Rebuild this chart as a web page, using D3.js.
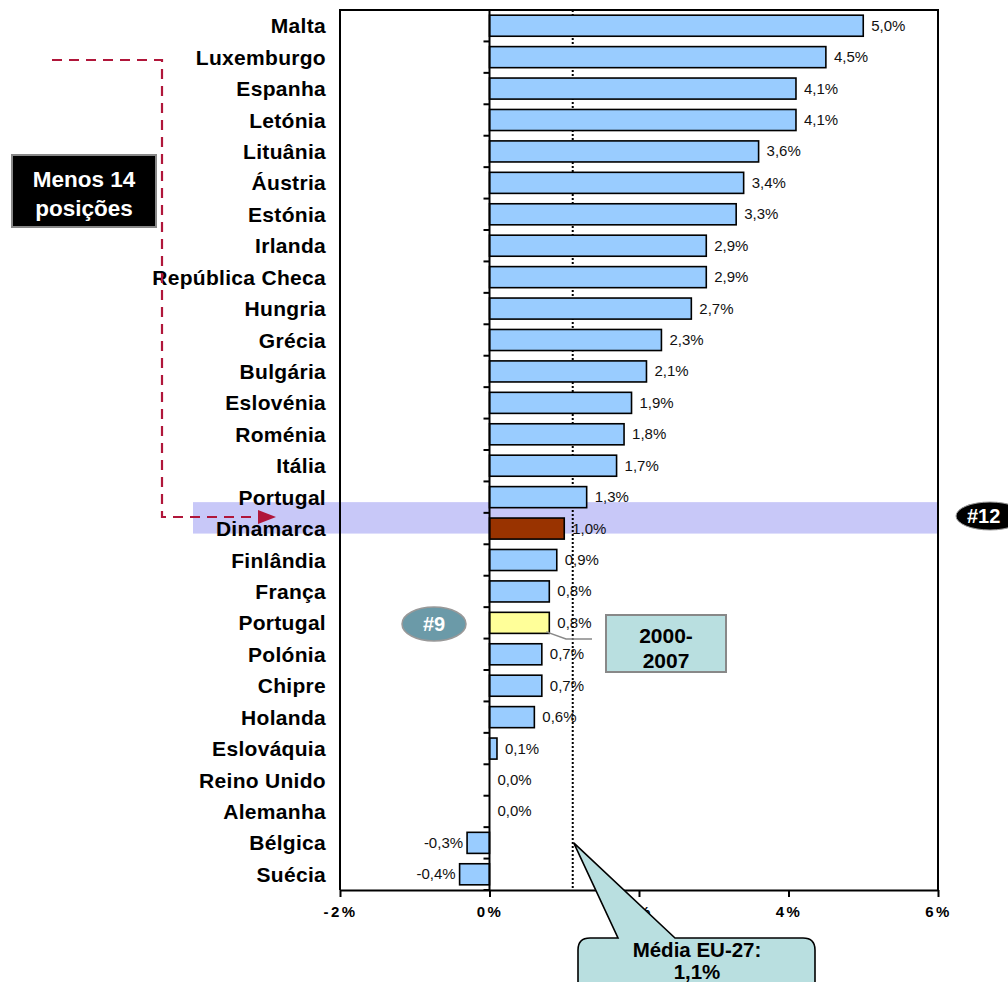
<!DOCTYPE html>
<html><head><meta charset="utf-8">
<script src="https://cdn.jsdelivr.net/npm/d3@7"></script>
<style>
html,body{margin:0;padding:0;background:#fff;}
svg{display:block;font-family:"Liberation Sans",Arial,sans-serif;}
</style></head>
<body><svg id="c" width="1008" height="982"></svg>
<script>
const countries = ["Malta","Luxemburgo","Espanha","Letónia","Lituânia","Áustria","Estónia","Irlanda","República Checa","Hungria","Grécia","Bulgária","Eslovénia","Roménia","Itália","Portugal","Dinamarca","Finlândia","França","Portugal","Polónia","Chipre","Holanda","Eslováquia","Reino Unido","Alemanha","Bélgica","Suécia"];
const values = [5.0,4.5,4.1,4.1,3.6,3.4,3.3,2.9,2.9,2.7,2.3,2.1,1.9,1.8,1.7,1.3,1.0,0.9,0.8,0.8,0.7,0.7,0.6,0.1,0.0,0.0,-0.3,-0.4];
const xTicks = [-2,0,2,4,6];
const euMean = 1.1;
const highlightIndex = 16;   // Dinamarca
const portugalIndex = 19;    // Portugal 2000-2007
const prevPortugalIndex = 15;

const svg = d3.select("#c");
const L=340,R=938,T=10,B=890;
const x = d3.scaleLinear().domain([-2,6]).range([L,R]);
const y = d3.scaleBand().domain(d3.range(countries.length)).range([T,B]).paddingInner(0.33).paddingOuter(0.165);
const cy = i => y(i)+y.bandwidth()/2;
const fmt = v => v.toFixed(1).replace(".",",")+"%";

// highlight band
svg.append("rect").attr("x",193).attr("width",R-193)
  .attr("y",cy(prevPortugalIndex)+5).attr("height",cy(highlightIndex)-cy(prevPortugalIndex))
  .attr("fill","#c8c8f8");

// plot frame
svg.append("path").attr("d",`M${L},${B}V${T}H${R}V${B}`).attr("fill","none").attr("stroke","#000").attr("stroke-width",2);

// mean line
svg.append("line").attr("x1",x(euMean)+1).attr("x2",x(euMean)+1).attr("y1",T).attr("y2",B)
  .attr("stroke","#000").attr("stroke-width",2).attr("stroke-dasharray","2,2");

// bars
svg.selectAll("rect.bar").data(values).enter().append("rect").attr("class","bar")
  .attr("x",d=>x(Math.min(0,d))).attr("width",d=>Math.abs(x(d)-x(0)))
  .attr("y",(d,i)=>y(i)).attr("height",y.bandwidth())
  .attr("fill",(d,i)=>i===highlightIndex?"#993300":(i===portugalIndex?"#ffff99":"#99ccff"))
  .attr("stroke",d=>d===0?"none":"#000").attr("stroke-width",1.6);

// zero axis
svg.append("line").attr("x1",x(0)).attr("x2",x(0)).attr("y1",T).attr("y2",B).attr("stroke","#000").attr("stroke-width",2);
const bounds = d3.range(countries.length+1).map(i=>T+ y.step()*i);
svg.selectAll("line.yt").data(bounds).enter().append("line").attr("class","yt")
  .attr("x1",x(0)-6).attr("x2",x(0)).attr("y1",d=>d).attr("y2",d=>d).attr("stroke","#000").attr("stroke-width",2);

// category labels
svg.selectAll("text.cat").data(countries).enter().append("text").attr("class","cat")
  .attr("x",326).attr("y",(d,i)=>cy(i)+7.5).attr("text-anchor","end")
  .attr("font-size",21).attr("font-weight","bold").attr("letter-spacing",0.3).text(d=>d);

// value labels
svg.selectAll("text.val").data(values).enter().append("text").attr("class","val")
  .attr("x",d=>d<0?x(d)-4:x(d)+8).attr("y",(d,i)=>cy(i)+5)
  .attr("text-anchor",d=>d<0?"end":"start")
  .attr("font-size",15).attr("fill","#111").text(fmt);

// x axis
const xa = svg.append("g").attr("transform",`translate(0,${B})`)
  .call(d3.axisBottom(x).tickValues(xTicks).tickSize(7).tickSizeOuter(0).tickFormat(d=>d+"%"));
xa.select(".domain").attr("stroke-width",2);
xa.selectAll(".tick line").attr("stroke-width",2);
xa.selectAll(".tick text").attr("font-family","'Liberation Sans',Arial,sans-serif")
  .attr("font-size",15).attr("font-weight","bold").attr("letter-spacing",2.5).attr("dy","1.15em").attr("fill","#000");

// dashed arrow
const red="#b0163a";
svg.append("path").attr("d",`M52,60H162V517H260`).attr("fill","none").attr("stroke",red)
  .attr("stroke-width",2.2).attr("stroke-dasharray","10,7");
svg.append("path").attr("d","M258,510L276,517L258,524Z").attr("fill",red);

// Menos 14 posições box
svg.append("rect").attr("x",12).attr("y",155).attr("width",144).attr("height",72).attr("fill","#000").attr("stroke","#888").attr("stroke-width",2);
svg.append("text").attr("x",84).attr("y",187).attr("text-anchor","middle").attr("fill","#fff").attr("font-weight","bold").attr("font-size",22.5).text("Menos 14");
svg.append("text").attr("x",84).attr("y",216).attr("text-anchor","middle").attr("fill","#fff").attr("font-weight","bold").attr("font-size",22.5).text("posições");

// #12 badge
svg.append("ellipse").attr("cx",990).attr("cy",516).attr("rx",34).attr("ry",14).attr("fill","#000").attr("stroke","#999").attr("stroke-width",1);
svg.append("text").attr("x",967).attr("y",523).attr("fill","#fff").attr("font-weight","bold").attr("font-size",20).text("#12");

// #9 badge
svg.append("ellipse").attr("cx",434).attr("cy",624).attr("rx",32).attr("ry",17).attr("fill","#6b9aa8").attr("stroke","#999").attr("stroke-width",1.5);
svg.append("text").attr("x",434).attr("y",631).attr("text-anchor","middle").attr("fill","#fff").attr("font-weight","bold").attr("font-size",20).text("#9");

// 2000-2007 connector and box
svg.append("path").attr("d",`M${x(values[portugalIndex])-3},${cy(portugalIndex)+9}L566,639H592`).attr("fill","none").attr("stroke","#888").attr("stroke-width",1.5);
svg.append("rect").attr("x",606).attr("y",615).attr("width",120).attr("height",57).attr("fill","#b9dfe0").attr("stroke","#888").attr("stroke-width",2);
svg.append("text").attr("x",666).attr("y",643).attr("text-anchor","middle").attr("font-weight","bold").attr("font-size",21).text("2000-");
svg.append("text").attr("x",666).attr("y",668).attr("text-anchor","middle").attr("font-weight","bold").attr("font-size",21).text("2007");

// Média EU-27 callout
const tipX = x(euMean)+2, tipY = cy(26);
svg.append("path").attr("d",`M590,938H618L${tipX},${tipY}L675,938H803Q815,938 815,950V1000H578V950Q578,938 590,938Z`)
  .attr("fill","#b9dfe0").attr("stroke","#000").attr("stroke-width",1.6);
svg.append("text").attr("x",697).attr("y",957).attr("text-anchor","middle").attr("font-weight","bold").attr("font-size",20.5).text("Média EU-27:");
svg.append("text").attr("x",697).attr("y",979).attr("text-anchor","middle").attr("font-weight","bold").attr("font-size",20.5).text("1,1%");
</script></body></html>
